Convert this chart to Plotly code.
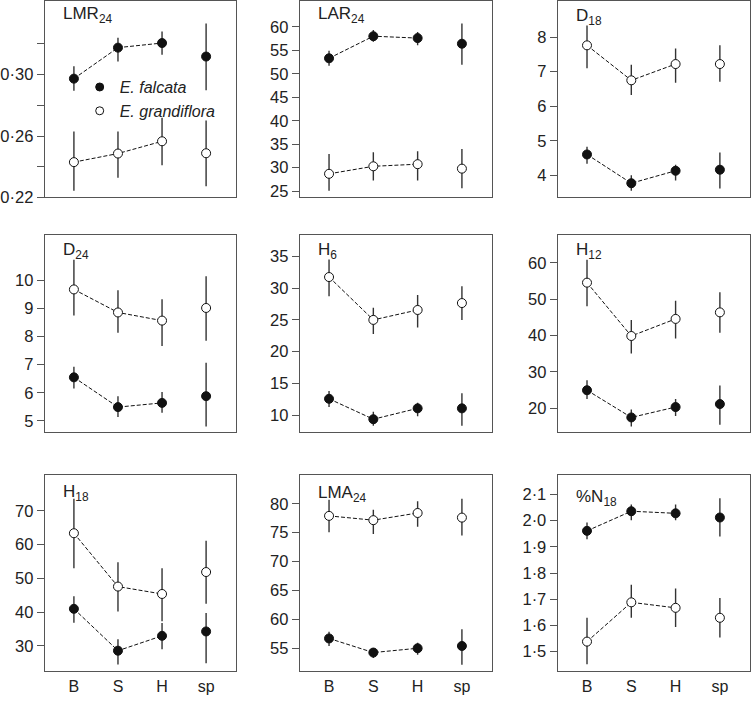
import plotly.graph_objects as go

categories = ["B", "S", "H", "sp"]
x_pos = [1, 2, 3, 4]

panel_titles = ["LMR<sub>24</sub>", "LAR<sub>24</sub>", "D<sub>18</sub>",
                "D<sub>24</sub>", "H<sub>6</sub>", "H<sub>12</sub>",
                "H<sub>18</sub>", "LMA<sub>24</sub>", "%N<sub>18</sub>"]

# ---- values (mean, upper end of bar, lower end of bar) ----
lmr_fal = [0.2974, 0.3176, 0.3206, 0.3118]
lmr_fal_hi = [0.3054, 0.3240, 0.3282, 0.3333]
lmr_fal_lo = [0.2895, 0.3086, 0.3129, 0.2899]
lmr_gra = [0.2430, 0.2486, 0.2566, 0.2488]
lmr_gra_hi = [0.2630, 0.2630, 0.2720, 0.2701]
lmr_gra_lo = [0.2243, 0.2329, 0.2409, 0.2273]

lar_fal = [53.3, 58.0, 57.6, 56.4]
lar_fal_hi = [54.9, 59.3, 58.9, 60.7]
lar_fal_lo = [51.7, 56.8, 56.1, 51.9]
lar_gra = [28.7, 30.3, 30.75, 29.8]
lar_gra_hi = [32.9, 33.3, 33.5, 34.0]
lar_gra_lo = [25.1, 27.3, 27.3, 25.6]

d18_fal = [4.61, 3.78, 4.14, 4.17]
d18_fal_hi = [4.83, 4.01, 4.31, 4.67]
d18_fal_lo = [4.34, 3.56, 3.86, 3.63]
d18_gra = [7.76, 6.75, 7.22, 7.22]
d18_gra_hi = [8.33, 7.20, 7.67, 7.76]
d18_gra_lo = [7.10, 6.33, 6.68, 6.71]

d24_fal = [6.55, 5.49, 5.64, 5.88]
d24_fal_hi = [6.93, 5.88, 6.03, 7.07]
d24_fal_lo = [6.15, 5.14, 5.29, 4.80]
d24_gra = [9.68, 8.86, 8.57, 9.02]
d24_gra_hi = [10.74, 9.65, 9.33, 10.15]
d24_gra_lo = [8.75, 8.14, 7.67, 7.85]

h6_fal = [12.59, 9.38, 11.09, 11.09]
h6_fal_hi = [13.8, 10.57, 11.97, 13.47]
h6_fal_lo = [11.3, 8.34, 9.84, 8.34]
h6_gra = [31.74, 25.0, 26.56, 27.65]
h6_gra_hi = [34.5, 26.9, 28.9, 30.3]
h6_gra_lo = [28.7, 22.8, 23.8, 25.0]

h12_fal = [24.98, 17.5, 20.36, 21.18]
h12_fal_hi = [27.7, 19.7, 22.6, 26.3]
h12_fal_lo = [22.6, 15.0, 17.9, 15.5]
h12_gra = [54.57, 39.9, 44.6, 46.4]
h12_gra_hi = [60.9, 44.3, 49.6, 51.9]
h12_gra_lo = [48.05, 35.1, 39.2, 40.8]

h18_fal = [41.0, 28.6, 33.0, 34.3]
h18_fal_hi = [44.7, 32.0, 36.8, 39.8]
h18_fal_lo = [36.9, 24.5, 29.0, 24.9]
h18_gra = [63.4, 47.6, 45.4, 51.9]
h18_gra_hi = [73.6, 54.8, 53.0, 61.2]
h18_gra_lo = [53.0, 40.2, 37.3, 42.5]

lma_fal = [56.7, 54.26, 55.0, 55.4]
lma_fal_hi = [57.84, 55.0, 55.97, 58.3]
lma_fal_lo = [55.4, 53.3, 53.86, 52.16]
lma_gra = [77.9, 77.16, 78.4, 77.6]
lma_gra_hi = [80.7, 78.98, 80.45, 80.85]
lma_gra_lo = [75.06, 74.77, 76.0, 74.5]

n18_fal = [1.961, 2.036, 2.028, 2.012]
n18_fal_hi = [1.993, 2.062, 2.062, 2.086]
n18_fal_lo = [1.929, 2.002, 2.002, 1.939]
n18_gra = [1.538, 1.688, 1.667, 1.629]
n18_gra_hi = [1.629, 1.755, 1.741, 1.705]
n18_gra_lo = [1.452, 1.629, 1.594, 1.554]

# ---- y axis ticks (major labelled, optional minor unlabelled) ----
lmr_ticks = [0.22, 0.26, 0.30]
lmr_minor = [0.24, 0.28, 0.32]
lar_ticks = [25, 30, 35, 40, 45, 50, 55, 60]
d18_ticks = [4, 5, 6, 7, 8]
d24_ticks = [5, 6, 7, 8, 9, 10]
h6_ticks = [10, 15, 20, 25, 30, 35]
h12_ticks = [20, 30, 40, 50, 60]
h18_ticks = [30, 40, 50, 60, 70]
lma_ticks = [55, 60, 65, 70, 75, 80]
n18_ticks = [1.5, 1.6, 1.7, 1.8, 1.9, 2.0, 2.1]

panels = [
    (lmr_fal, lmr_fal_hi, lmr_fal_lo, lmr_gra, lmr_gra_hi, lmr_gra_lo, [0.22, 0.348], lmr_ticks, lmr_minor, ".2f"),
    (lar_fal, lar_fal_hi, lar_fal_lo, lar_gra, lar_gra_hi, lar_gra_lo, [23.67, 65.5], lar_ticks, None, "d"),
    (d18_fal, d18_fal_hi, d18_fal_lo, d18_gra, d18_gra_hi, d18_gra_lo, [3.37, 9.04], d18_ticks, None, "d"),
    (d24_fal, d24_fal_hi, d24_fal_lo, d24_gra, d24_gra_hi, d24_gra_lo, [4.59, 11.62], d24_ticks, None, "d"),
    (h6_fal, h6_fal_hi, h6_fal_lo, h6_gra, h6_gra_hi, h6_gra_lo, [7.31, 38.36], h6_ticks, None, "d"),
    (h12_fal, h12_fal_hi, h12_fal_lo, h12_gra, h12_gra_hi, h12_gra_lo, [13.39, 67.69], h12_ticks, None, "d"),
    (h18_fal, h18_fal_hi, h18_fal_lo, h18_gra, h18_gra_hi, h18_gra_lo, [22.5, 80.7], h18_ticks, None, "d"),
    (lma_fal, lma_fal_hi, lma_fal_lo, lma_gra, lma_gra_hi, lma_gra_lo, [51.02, 85.0], lma_ticks, None, "d"),
    (n18_fal, n18_fal_hi, n18_fal_lo, n18_gra, n18_gra_hi, n18_gra_lo, [1.4247, 2.175], n18_ticks, None, ".1f"),
]

W, H = 751, 702
col_px = [(42, 234), (298, 491), (557, 750)]
row_px = [(1, 200), (238, 438), (481, 680)]
title_top_px = [1, 1, 3, 3, 3, 3, 5, 6, 10]
FONT = "Liberation Sans, Arial, sans-serif"
TXT = "#222222"
FRAME = "#555555"
BAR = "#333333"

fig = go.Figure()
layout = {}
annotations = []

for i, (fal, fal_hi, fal_lo, gra, gra_hi, gra_lo, yr, tv, minor_tv, fmt) in enumerate(panels):
    r, c = divmod(i, 3)
    n = "" if i == 0 else str(i + 1)
    xa, ya = "x" + n, "y" + n
    x0, x1 = col_px[c]
    y0, y1 = row_px[r]
    layout["xaxis" + n] = dict(
        domain=[x0 / W, x1 / W], range=[0.34, 4.68], anchor=ya,
        showline=True, mirror=True, linecolor=FRAME, linewidth=1.3,
        ticks="", tickvals=x_pos, ticktext=categories,
        showticklabels=(r == 2), showgrid=False, zeroline=False,
        tickfont=dict(family=FONT, size=16, color=TXT),
    )
    yax = dict(
        domain=[1 - y1 / H, 1 - y0 / H], range=yr, anchor=xa,
        showline=True, mirror=True, linecolor=FRAME, linewidth=1.3,
        ticks="outside", ticklen=7, tickwidth=1.2, tickcolor=FRAME,
        tickmode="array", tickvals=tv, tickformat=fmt,
        showgrid=False, zeroline=False,
        tickfont=dict(family=FONT, size=16.5, color=TXT),
    )
    if minor_tv:
        yax["minor"] = dict(tickmode="array", tickvals=minor_tv, ticks="outside",
                            ticklen=7, tickwidth=1.2, tickcolor=FRAME, showgrid=False)
    layout["yaxis" + n] = yax
    # dashed connecting lines (B, S, H only)
    for vals in (fal, gra):
        fig.add_trace(go.Scatter(
            x=x_pos[:3], y=vals[:3], mode="lines", xaxis=xa, yaxis=ya,
            line=dict(color="#111111", width=1, dash="4px,2px"),
            showlegend=False, hoverinfo="skip"))
    for vals, hi, lo, filled in ((fal, fal_hi, fal_lo, True), (gra, gra_hi, gra_lo, False)):
        fig.add_trace(go.Scatter(
            x=x_pos, y=vals, mode="markers", xaxis=xa, yaxis=ya,
            marker=dict(size=9, color="#111111" if filled else "white",
                        line=dict(color="#111111", width=1)),
            error_y=dict(type="data", symmetric=False,
                         array=[h - v for h, v in zip(hi, vals)],
                         arrayminus=[v - l for v, l in zip(vals, lo)],
                         width=0, thickness=1.4, color=BAR),
            showlegend=False))
    annotations.append(dict(
        text=panel_titles[i], xref=xa + " domain", yref="paper",
        x=16 / (x1 - x0), y=1 - (y0 + title_top_px[i]) / H,
        xanchor="left", yanchor="top", showarrow=False,
        font=dict(family=FONT, size=17, color=TXT)))

# legend-only traces
fig.add_trace(go.Scatter(x=[None], y=[None], mode="markers", name="<i>E. falcata</i>",
                         marker=dict(size=8, color="#111111", line=dict(color="#111111", width=1))))
fig.add_trace(go.Scatter(x=[None], y=[None], mode="markers", name="<i>E. grandiflora</i>",
                         marker=dict(size=8, color="white", line=dict(color="#111111", width=1))))

fig.update_layout(
    width=W, height=H, margin=dict(l=0, r=0, t=0, b=0),
    paper_bgcolor="white", plot_bgcolor="white",
    separators="·,",
    showlegend=True,
    legend=dict(x=77 / W, y=1 - 71 / H, xanchor="left", yanchor="top",
                bgcolor="rgba(0,0,0,0)", borderwidth=0,
                font=dict(family=FONT, size=16, color=TXT), itemsizing="trace"),
    annotations=annotations,
    **layout,
)

fig.write_html("out.html", config={"displayModeBar": False},
               post_script="document.body.style.margin='0';")
